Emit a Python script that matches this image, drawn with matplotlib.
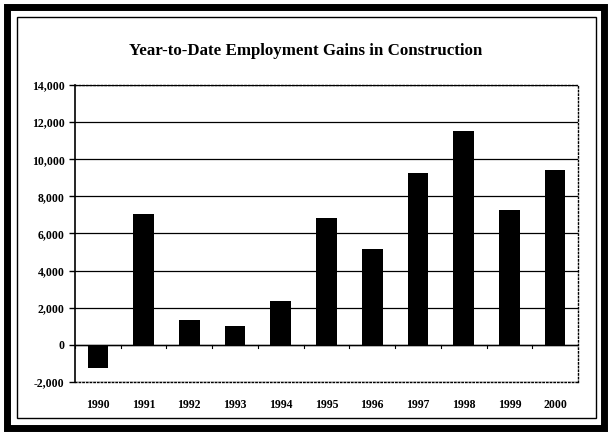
import matplotlib
matplotlib.use('Agg')
import matplotlib.pyplot as plt
from matplotlib.patches import Rectangle
from matplotlib.ticker import FuncFormatter

years = ['1990', '1991', '1992', '1993', '1994', '1995', '1996', '1997', '1998', '1999', '2000']
gains = [-1250, 7050, 1350, 1000, 2350, 6850, 5150, 9250, 11500, 7250, 9400]

plt.rcParams['font.family'] = ['Liberation Serif', 'DejaVu Serif']
plt.rcParams['font.weight'] = 'bold'

fig = plt.figure(figsize=(6.11, 4.33), dpi=100)
ax = fig.add_axes([0.1227, 0.1178, 0.8233, 0.686])

x = range(len(years))
ax.bar(x, gains, width=0.45, color='black', zorder=3)

ax.set_ylim(-2000, 14000)
ax.set_xlim(-0.5, len(years) - 0.5)
ax.set_yticks(range(-2000, 14001, 2000))
ax.yaxis.set_major_formatter(FuncFormatter(lambda v, p: f'{int(v):,}'))
ax.set_xticks(list(x))
ax.set_xticklabels(years)
ax.tick_params(axis='x', length=0, pad=12, labelsize=8.5)
ax.tick_params(axis='y', length=4, direction='out', labelsize=8.5, width=1)

ax.grid(axis='y', color='black', linewidth=0.9, zorder=1)
ax.axhline(0, color='black', linewidth=1, zorder=2)
# small tick marks on the zero line between categories
for i in range(len(years) + 1):
    ax.plot([i - 0.5, i - 0.5], [0, -180], color='black', linewidth=0.8, zorder=2)

ax.spines['left'].set_linewidth(1.2)
for s in ['top', 'right', 'bottom']:
    ax.spines[s].set_linestyle(':')
    ax.spines[s].set_linewidth(1)

fig.text(0.5, 0.882, 'Year-to-Date Employment Gains in Construction',
         ha='center', va='center', fontsize=12.2, fontweight='bold')

# outer thick frame and inner thin frame
fig.patches.append(Rectangle((0.012, 0.012), 0.976, 0.972, transform=fig.transFigure,
                             fill=False, edgecolor='black', linewidth=5))
fig.patches.append(Rectangle((0.028, 0.035), 0.947, 0.925, transform=fig.transFigure,
                             fill=False, edgecolor='black', linewidth=1))

fig.savefig('out.png', dpi=100)
